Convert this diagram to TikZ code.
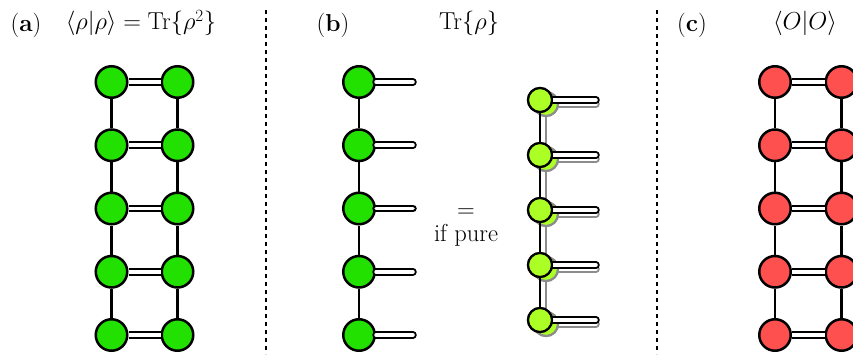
\RequirePackage{fix-cm}
\documentclass[tikz,border=0pt]{standalone}
\usepackage{amsmath}
\definecolor{gfill}{RGB}{34,224,0}
\definecolor{yfill}{RGB}{172,255,36}
\definecolor{rfill}{RGB}{255,80,80}
\definecolor{shadow}{RGB}{140,140,140}
\begin{document}
\begin{tikzpicture}[x=1pt,y=-1pt,
  site/.style={circle,draw=black,line width=2.5pt,minimum size=31.5pt,inner sep=0pt},
  gsite/.style={site,fill=gfill},
  rsite/.style={site,fill=rfill},
  ysite/.style={circle,draw=black,line width=2.2pt,minimum size=24pt,inner sep=0pt,fill=yfill},
  ssite/.style={ysite,draw=shadow},
  bond/.style={line width=2.4pt},
  sbond/.style={line width=2.4pt,draw=shadow},
  dbl/.style={line width=2pt,double=white,double distance=3.5pt},
  tail/.style={dbl,line cap=round},
  stail/.style={tail,draw=shadow},
  sep/.style={line width=2.8pt,dash pattern=on 4pt off 4pt},
  lbl/.style={font=\fontsize{24.5}{29}\selectfont,anchor=base,inner sep=0pt}
]
\clip (0,0) rectangle (853,358);
\fill[white] (0,0) rectangle (853,358);

% separators
\coordinate (s1t) at (266,10); \coordinate (s1b) at (266,354);
\coordinate (s2t) at (657,10); \coordinate (s2b) at (657,354);
\draw[sep] (s1t) -- (s1b);
\draw[sep] (s2t) -- (s2b);

% titles
\node[lbl] (la) at (26,32) {(\textbf{a})};
\node[lbl] (ta) at (141,30) {$\langle\rho|\rho\rangle=\mathrm{Tr}\{\rho^2\}$};
\node[lbl] (lb) at (333,32) {(\textbf{b})};
\node[lbl] (tb) at (469,30) {$\mathrm{Tr}\{\rho\}$};
\node[lbl] (lc) at (692,32) {(\textbf{c})};
\node[lbl] (tc) at (805,30) {$\langle O|O\rangle$};
\node[lbl] (eq) at (466,217) {$=$};
\node[lbl] (ip) at (466,241) {if pure};

% panel (a)
\foreach \i/\y in {1/82,2/145.25,3/208.5,4/271.75,5/335}{
  \node[gsite] (aL\i) at (111.5,\y) {};
  \node[gsite] (aR\i) at (177.5,\y) {};
  \draw[dbl] (aL\i) -- (aR\i);
}
\foreach \i/\j in {1/2,2/3,3/4,4/5}{
  \draw[bond] (aL\i) -- (aL\j);
  \draw[bond] (aR\i) -- (aR\j);
}

% panel (b) left column
\foreach \i/\y in {1/82,2/145.25,3/208.5,4/271.75,5/335}{
  \node[gsite] (bL\i) at (359,\y) {};
  \coordinate (bT\i) at (413,\y);
  \draw[tail] (bL\i) -- (bT\i);
}
\foreach \i/\j in {1/2,2/3,3/4,4/5}{
  \draw[bond] (bL\i) -- (bL\j);
}

% panel (b) right column: shadow copy
\foreach \i/\y in {1/100,2/155,3/210,4/265,5/320}{
  \node[ssite] (sR\i) at (546,\y+4) {};
  \coordinate (sT\i) at (596,\y+4);
}
\foreach \i/\j in {1/2,2/3,3/4,4/5}{
  \draw[sbond] (sR\i) -- (sR\j);
}
\foreach \i in {1,...,5}{
  \draw[stail] (sR\i) -- (sT\i);
  \node[ssite] at (sR\i) {};
}
% main copy
\foreach \i/\y in {1/100,2/155,3/210,4/265,5/320}{
  \node[ysite] (yR\i) at (540,\y) {};
  \coordinate (yT\i) at (596,\y);
}
\foreach \i/\j in {1/2,2/3,3/4,4/5}{
  \draw[bond] (yR\i) -- (yR\j);
}
\foreach \i in {1,...,5}{
  \draw[tail] (yR\i) -- (yT\i);
  \node[ysite] at (yR\i) {};
}

% panel (c)
\foreach \i/\y in {1/82,2/145.25,3/208.5,4/271.75,5/335}{
  \node[rsite] (cL\i) at (775,\y) {};
  \node[rsite] (cR\i) at (841.5,\y) {};
  \draw[dbl] (cL\i) -- (cR\i);
}
\foreach \i/\j in {1/2,2/3,3/4,4/5}{
  \draw[bond] (cL\i) -- (cL\j);
  \draw[bond] (cR\i) -- (cR\j);
}
\end{tikzpicture}
\end{document}
